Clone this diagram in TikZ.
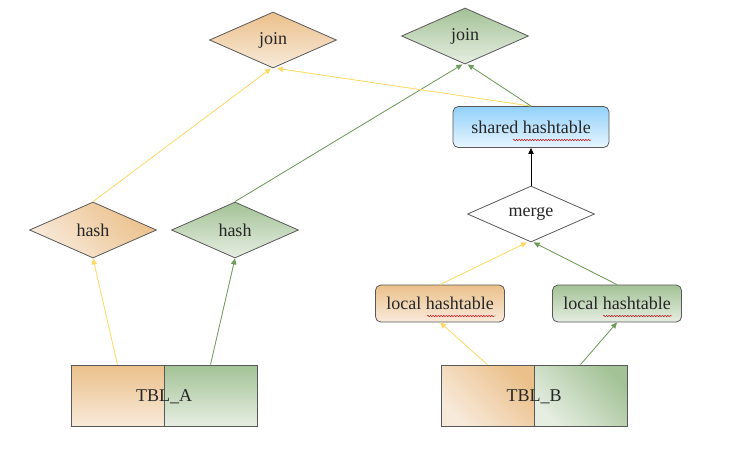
\documentclass[tikz,border=0pt]{standalone}
\usepackage{fontspec}
\setmainfont{Liberation Serif}
\usetikzlibrary{shapes.geometric,arrows.meta,decorations.pathmorphing}
\definecolor{orT}{HTML}{EBC08A}
\definecolor{orB}{HTML}{F8EADB}
\definecolor{grT}{HTML}{A3C296}
\definecolor{grB}{HTML}{E6EEE2}
\definecolor{blT}{HTML}{92D1FA}
\definecolor{blB}{HTML}{E8F5FE}
\definecolor{edY}{HTML}{FFD966}
\definecolor{edG}{HTML}{6E9B5A}
\definecolor{bd}{HTML}{595959}
\tikzset{
  lbl/.style={font=\fontsize{13.5}{16}\selectfont, text=black!85},
  base/.style={draw=bd, line width=0.6pt, lbl, inner sep=0pt},
  dia/.style={base, diamond, aspect=2.27, minimum width=95.25pt, minimum height=42pt},
  orfill/.style={top color=orT, bottom color=orB},
  grfill/.style={top color=grT, bottom color=grB},
  ordiag/.style={top color=orT, bottom color=orB, shading angle=-45},
  grdiag/.style={top color=grT, bottom color=grB, shading angle=-45},
  rbox/.style={base, rectangle, rounded corners=4pt},
  tbl/.style={base, rectangle, minimum width=69.75pt, minimum height=45.75pt},
  tip/.style={-{Triangle[length=4.5pt,width=4pt]}},
  ey/.style={tip, draw=edY, fill=edY, line width=0.6pt},
  eg/.style={tip, draw=edG, fill=edG, line width=0.6pt},
  squig/.style={draw=red!85!black, line width=0.35pt, decorate, decoration={snake, amplitude=0.5pt, segment length=2pt}}
}
\begin{document}
\begin{tikzpicture}[x=0.75pt,y=-0.75pt]
\useasboundingbox (0,0) rectangle (741,458);
% nodes
\node[dia, orfill] (joinL) at (273,40) {join};
\node[dia, grfill] (joinR) at (465,36) {join};
\node[rbox, top color=blT, bottom color=blB, minimum width=117pt, minimum height=30.75pt] (shared) at (531,127) {shared hashtable};
\node[dia, fill=white] (merge) at (531,214) {merge};
\node[dia, ordiag] (hashL) at (93,230) {hash};
\node[dia, grfill] (hashR) at (235,230) {hash};
\node[rbox, orfill, minimum width=96.75pt, minimum height=27.75pt] (localL) at (440,303.5) {local hashtable};
\node[rbox, grfill, minimum width=96.75pt, minimum height=27.75pt] (localR) at (617,303.5) {local hashtable};
\node[tbl, orfill] (tblAl) at (117.5,395.5) {};
\node[tbl, grfill] (tblAr) at (210.5,395.5) {};
\node[lbl] (tblA) at (164,397) {TBL\_A};
\node[tbl, ordiag] (tblBl) at (487.5,395.5) {};
\node[tbl, grdiag] (tblBr) at (580.5,395.5) {};
\node[lbl] (tblB) at (534,397) {TBL\_B};
% spell-check squiggles
\draw[squig] (513,140) -- (591,140);
\draw[squig] (427,316) -- (495,316);
\draw[squig] (603,316) -- (672,316);
% edges
\draw[ey] (tblAl.north) -- (hashL.south);
\draw[eg] (tblAr.north) -- (hashR.south);
\draw[ey] (hashL.north) -- ([xshift=-1.5]joinL.south);
\draw[eg] (hashR.north) -- ([xshift=-2]joinR.south);
\draw[ey] (shared.north) -- ([xshift=3]joinL.south);
\draw[eg] (shared.north) -- ([xshift=2]joinR.south);
\draw[tip, draw=black, fill=black, line width=0.6pt] (merge.north) -- (shared.south);
\draw[ey] (localL.north) -- ([xshift=-3]merge.south);
\draw[eg] (localR.north) -- ([xshift=2]merge.south);
\draw[ey] (tblBl.north) -- (localL.south);
\draw[eg] (tblBr.north) -- (localR.south);
\end{tikzpicture}
\end{document}
